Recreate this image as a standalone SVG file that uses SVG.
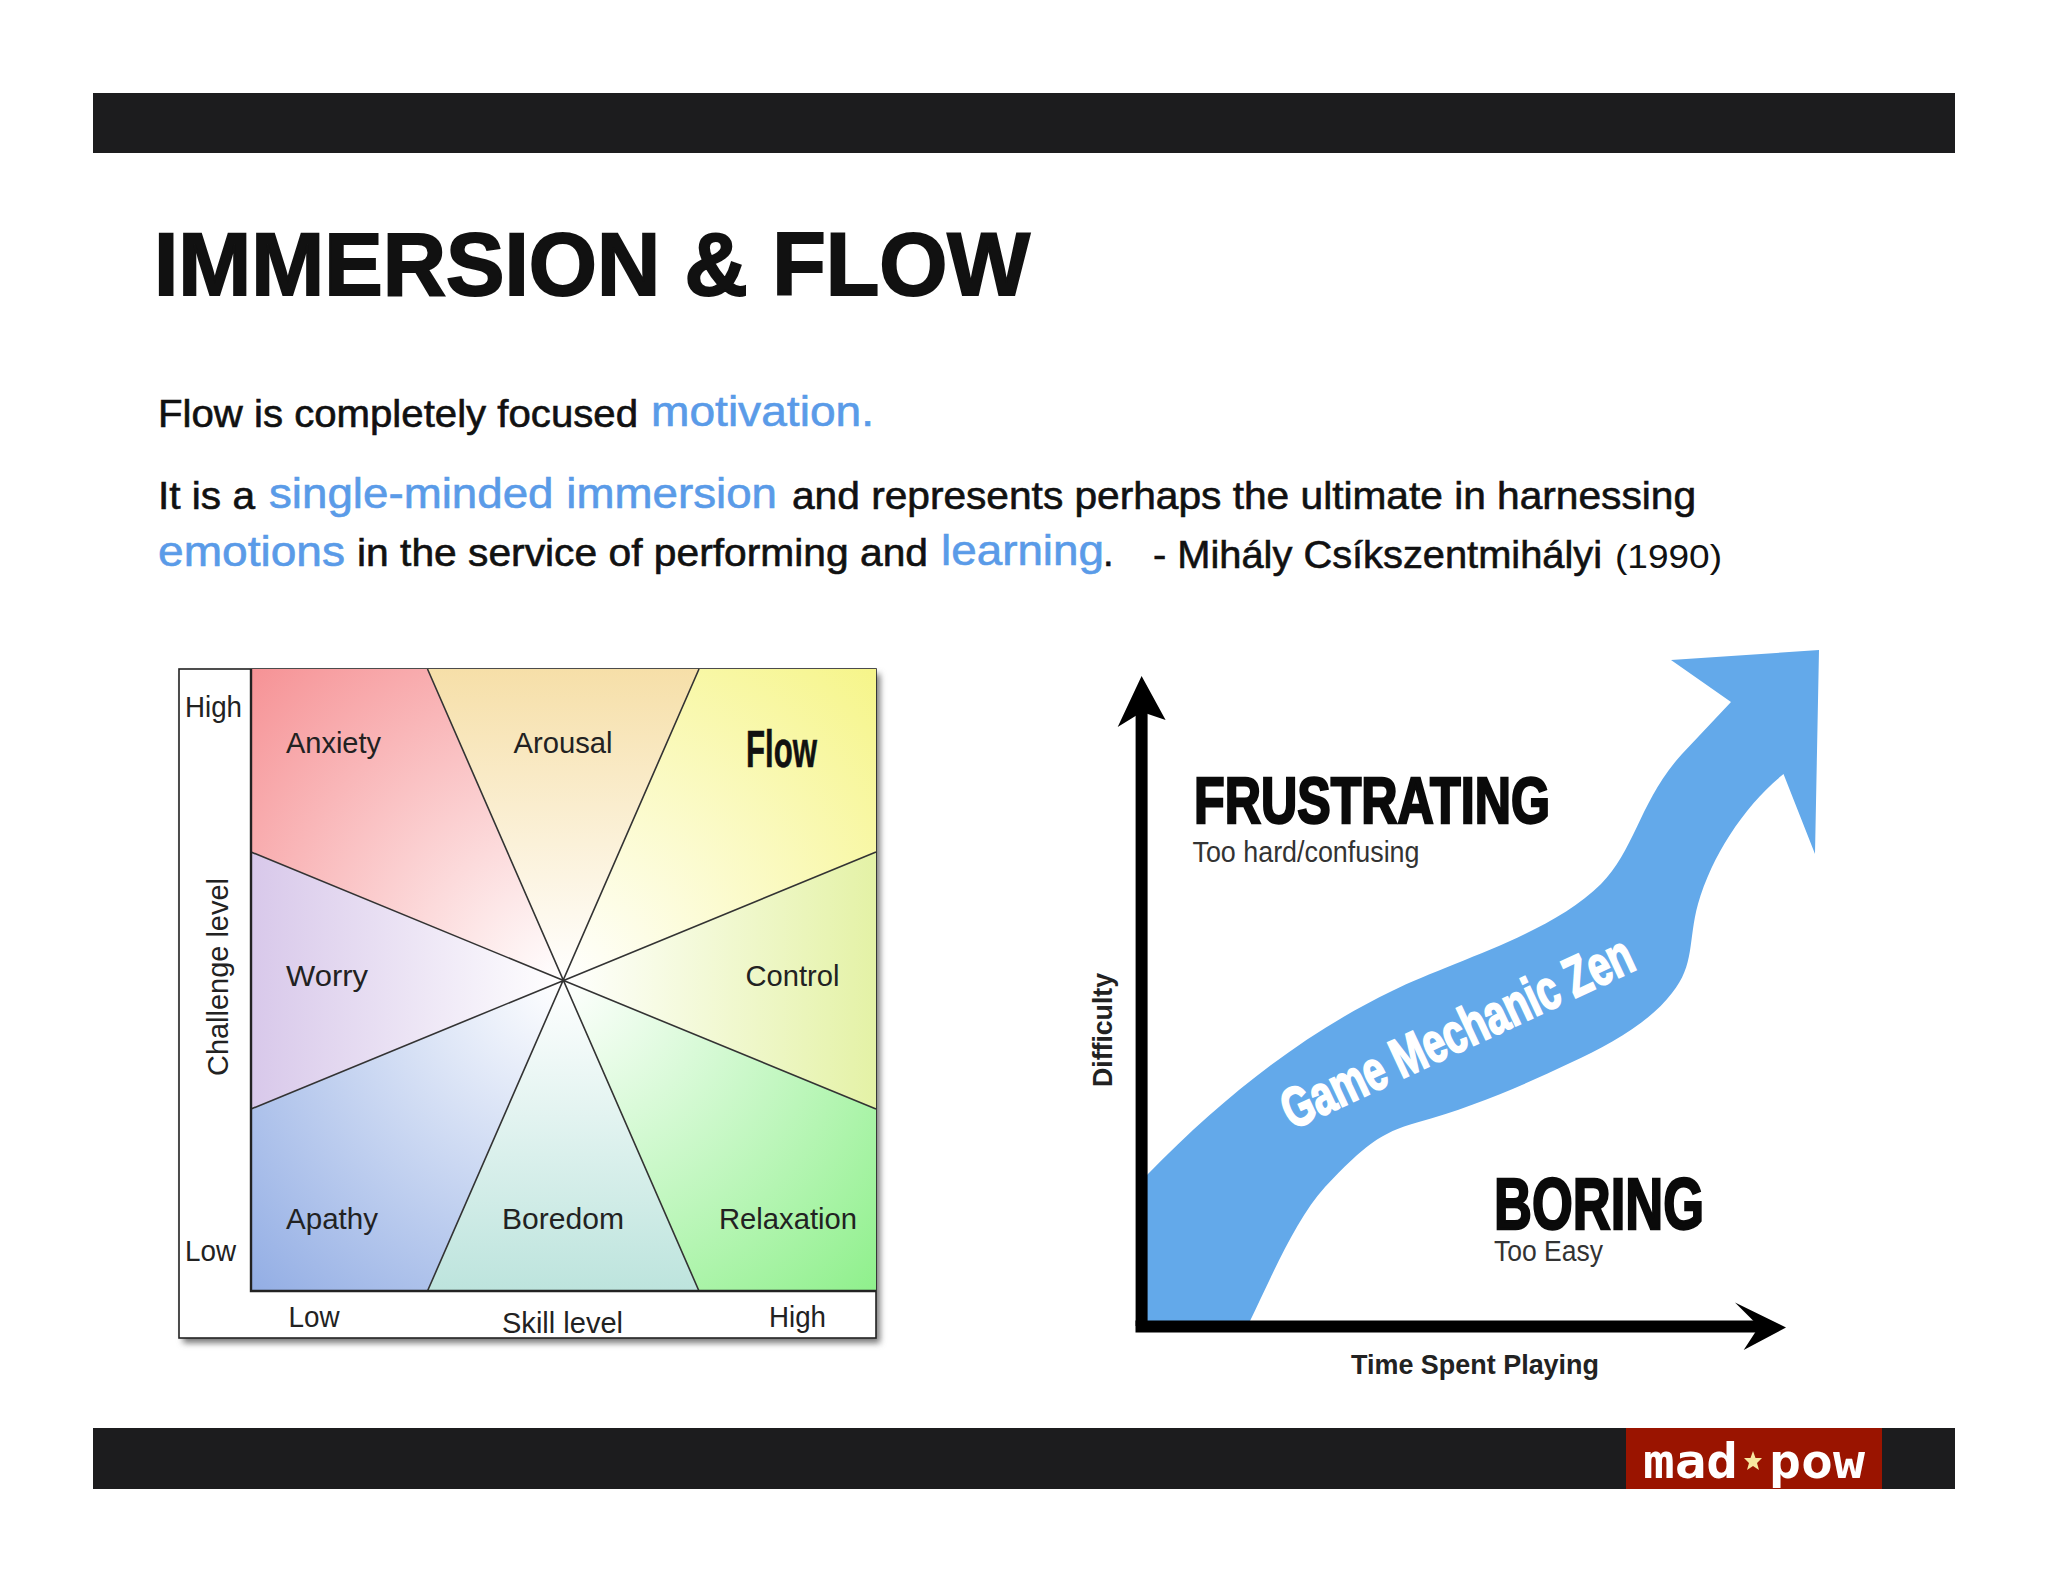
<svg xmlns="http://www.w3.org/2000/svg" width="2048" height="1582" viewBox="0 0 2048 1582">
<style>
text{font-family:"Liberation Sans",Arial,sans-serif;fill:#111}
.body{font-size:38px;stroke:#111;stroke-width:.6px}
.blue{font-size:42px;fill:#5a9be8;stroke:#5a9be8;stroke-width:.6px}
.lab{font-size:29px;fill:#222}
.spoke{stroke:#333;stroke-width:1.6;fill:none}
.heavy{font-weight:700;stroke:#0a0a0a;stroke-width:2.4px;fill:#0a0a0a}
.small{font-size:29px;fill:#333}
.axis{font-size:28px;font-weight:700;fill:#222}
.logo{font-family:"DejaVu Sans Mono",monospace;font-weight:700;font-size:48px;fill:#fff}
</style>
<defs>
<filter id="shadow" x="-5%" y="-5%" width="110%" height="110%"><feGaussianBlur stdDeviation="3"/></filter>
<radialGradient id="gA" gradientUnits="userSpaceOnUse" cx="562" cy="981" r="441"><stop offset="0" stop-color="#fff"/><stop offset="1" stop-color="#f69295"/></radialGradient>
<radialGradient id="gF" gradientUnits="userSpaceOnUse" cx="562" cy="981" r="441"><stop offset="0" stop-color="#fff"/><stop offset="1" stop-color="#f6f58a"/></radialGradient>
<radialGradient id="gR" gradientUnits="userSpaceOnUse" cx="562" cy="981" r="441"><stop offset="0" stop-color="#fff"/><stop offset="1" stop-color="#8ff08c"/></radialGradient>
<radialGradient id="gP" gradientUnits="userSpaceOnUse" cx="562" cy="981" r="441"><stop offset="0" stop-color="#fff"/><stop offset="1" stop-color="#92ade4"/></radialGradient>
<linearGradient id="gU" gradientUnits="userSpaceOnUse" x1="562" y1="981" x2="562" y2="668"><stop offset="0" stop-color="#fff"/><stop offset="1" stop-color="#f6dfa8"/></linearGradient>
<linearGradient id="gB" gradientUnits="userSpaceOnUse" x1="562" y1="981" x2="562" y2="1291"><stop offset="0" stop-color="#fff"/><stop offset="1" stop-color="#bde4dd"/></linearGradient>
<linearGradient id="gW" gradientUnits="userSpaceOnUse" x1="562" y1="981" x2="251" y2="981"><stop offset="0" stop-color="#fff"/><stop offset="1" stop-color="#d8c8ea"/></linearGradient>
<linearGradient id="gC" gradientUnits="userSpaceOnUse" x1="562" y1="981" x2="876" y2="981"><stop offset="0" stop-color="#fff"/><stop offset="1" stop-color="#e4f2a6"/></linearGradient>
</defs>
<rect width="2048" height="1582" fill="#fff"/>
<g id="top-bar"><rect x="93" y="93" width="1862" height="60" fill="#1c1c1e"/></g>
<g id="bottom-bar"><rect x="93" y="1428" width="1862" height="61" fill="#1c1c1e"/></g>
<g id="logo">
<rect x="1626" y="1428" width="256" height="61" fill="#9a1400"/>
<text class="logo" x="1643" y="1478" textLength="95" lengthAdjust="spacingAndGlyphs">mad</text>
<polygon points="1753,1451 1755.5,1458 1762,1458 1757,1463 1759,1470 1753,1466 1747,1470 1749,1463 1744,1458 1750.5,1458" fill="#f7e8a0"/>
<text class="logo" x="1769" y="1478" textLength="96" lengthAdjust="spacingAndGlyphs">pow</text>
</g>
<g id="title"><text x="154" y="295" font-size="89" font-weight="700" stroke="#111" stroke-width="2" textLength="876" lengthAdjust="spacingAndGlyphs">IMMERSION &amp; FLOW</text></g>
<g id="body-text">
<text class="body" x="158" y="426.5" textLength="480" lengthAdjust="spacingAndGlyphs">Flow is completely focused</text>
<text class="blue" x="651" y="426" textLength="223" lengthAdjust="spacingAndGlyphs">motivation.</text>
<text class="body" x="158" y="508.5" textLength="97" lengthAdjust="spacingAndGlyphs">It is a</text>
<text class="blue" x="269" y="508" textLength="508" lengthAdjust="spacingAndGlyphs">single-minded immersion</text>
<text class="body" x="792" y="509" textLength="904" lengthAdjust="spacingAndGlyphs">and represents perhaps the ultimate in harnessing</text>
<text class="blue" x="158" y="566" textLength="187" lengthAdjust="spacingAndGlyphs">emotions</text>
<text class="body" x="357" y="566" textLength="571" lengthAdjust="spacingAndGlyphs">in the service of performing and</text>
<text class="blue" x="941" y="565" textLength="163" lengthAdjust="spacingAndGlyphs">learning</text>
<text class="body" x="1103" y="566">.</text>
<text class="body" x="1153" y="568" textLength="449" lengthAdjust="spacingAndGlyphs">- Mihály Csíkszentmihályi</text>
<text x="1615" y="568" font-size="34" textLength="107" lengthAdjust="spacingAndGlyphs">(1990)</text>
</g>
<g id="flow-chart">
<rect x="179" y="669" width="697" height="669" fill="#777" filter="url(#shadow)" transform="translate(4 5)"/>
<rect x="179" y="669" width="697" height="669" fill="#fff" stroke="#222" stroke-width="1.6"/>
<g id="sectors">
<polygon id="sector-anxiety" points="562.4,980.7 251,852 251,669 427.5,669" fill="url(#gA)"/>
<polygon id="sector-arousal" points="562.4,980.7 427.5,669 699,669" fill="url(#gU)"/>
<polygon id="sector-flow" points="562.4,980.7 699,669 876,669 876,852" fill="url(#gF)"/>
<polygon id="sector-control" points="562.4,980.7 876,852 876,1109" fill="url(#gC)"/>
<polygon id="sector-relaxation" points="562.4,980.7 876,1109 876,1291 699,1291" fill="url(#gR)"/>
<polygon id="sector-boredom" points="562.4,980.7 699,1291 427.5,1291" fill="url(#gB)"/>
<polygon id="sector-apathy" points="562.4,980.7 427.5,1291 251,1291 251,1109" fill="url(#gP)"/>
<polygon id="sector-worry" points="562.4,980.7 251,1109 251,852" fill="url(#gW)"/>
</g>
<path class="spoke" d="M427.5 669L699 1291M699 669L427.5 1291M251 852L876 1109M876 852L251 1109"/>
<path d="M251 669V1291H876" fill="none" stroke="#222" stroke-width="2.4"/>
<text class="lab" x="185" y="717" textLength="57" lengthAdjust="spacingAndGlyphs">High</text>
<text class="lab" x="185" y="1261" textLength="51" lengthAdjust="spacingAndGlyphs">Low</text>
<text class="lab" x="286" y="752.5" textLength="95" lengthAdjust="spacingAndGlyphs">Anxiety</text>
<text class="lab" x="513.5" y="752.5" textLength="99" lengthAdjust="spacingAndGlyphs">Arousal</text>
<text x="746" y="767" font-size="52" font-weight="700" stroke="#111" stroke-width=".6" textLength="71" lengthAdjust="spacingAndGlyphs">Flow</text>
<text class="lab" x="286" y="986" textLength="82" lengthAdjust="spacingAndGlyphs">Worry</text>
<text class="lab" x="745.5" y="986" textLength="94" lengthAdjust="spacingAndGlyphs">Control</text>
<text class="lab" x="286" y="1229" textLength="92" lengthAdjust="spacingAndGlyphs">Apathy</text>
<text class="lab" x="502" y="1229" textLength="122" lengthAdjust="spacingAndGlyphs">Boredom</text>
<text class="lab" x="719" y="1229" textLength="138" lengthAdjust="spacingAndGlyphs">Relaxation</text>
<text class="lab" x="288.5" y="1326.5" textLength="51" lengthAdjust="spacingAndGlyphs">Low</text>
<text class="lab" x="502" y="1332.5" textLength="121" lengthAdjust="spacingAndGlyphs">Skill level</text>
<text class="lab" x="769" y="1326.5" textLength="57" lengthAdjust="spacingAndGlyphs">High</text>
<text class="lab" transform="translate(228 1076) rotate(-90)" textLength="198" lengthAdjust="spacingAndGlyphs">Challenge level</text>
</g>
<g id="zen-chart">
<path id="zen-band" fill="#63a9ea" d="M1147 1321V1175C1225 1095 1305 1033 1392 991C1450 962 1550 935 1601 884C1635 850 1640 800 1682 754L1731 702L1671 660L1819 650L1815 854L1783.5 774C1745 805 1712 855 1698 904C1688 940 1695 965 1672 993C1650 1022 1610 1045 1570 1063C1520 1087 1470 1108 1417 1122.5C1380 1133 1365 1145 1325 1187C1295 1220 1270 1280 1250 1321Z"/>
<text id="zen-label" transform="translate(1292 1130) rotate(-25)" font-size="56" font-weight="700" style="fill:#fff;stroke:#fff;stroke-width:2px" textLength="382" lengthAdjust="spacingAndGlyphs">Game Mechanic Zen</text>
<g id="frustrating-node">
<text class="heavy" x="1194" y="823" font-size="64" textLength="356" lengthAdjust="spacingAndGlyphs">FRUSTRATING</text>
<text class="small" x="1192.5" y="862" textLength="227" lengthAdjust="spacingAndGlyphs">Too hard/confusing</text>
</g>
<g id="boring-node">
<text class="heavy" x="1494" y="1228.5" font-size="73" textLength="210" lengthAdjust="spacingAndGlyphs">BORING</text>
<text class="small" x="1494" y="1261" textLength="109" lengthAdjust="spacingAndGlyphs">Too Easy</text>
</g>
<text class="axis" x="1351" y="1374" textLength="248" lengthAdjust="spacingAndGlyphs">Time Spent Playing</text>
<text class="axis" transform="translate(1112 1087) rotate(-90)" textLength="114" lengthAdjust="spacingAndGlyphs">Difficulty</text>
</g>
<g id="connectors">
<path d="M1141.6 1326V705" fill="none" stroke="#000" stroke-width="12"/>
<polygon points="1141.6,676 1165.6,720 1142,712 1117.7,727" fill="#000"/>
<path d="M1135.5 1326.5H1765" fill="none" stroke="#000" stroke-width="12"/>
<polygon points="1786,1327.5 1743.7,1350 1759,1326.5 1735,1302.6" fill="#000"/>
</g>
</svg>
